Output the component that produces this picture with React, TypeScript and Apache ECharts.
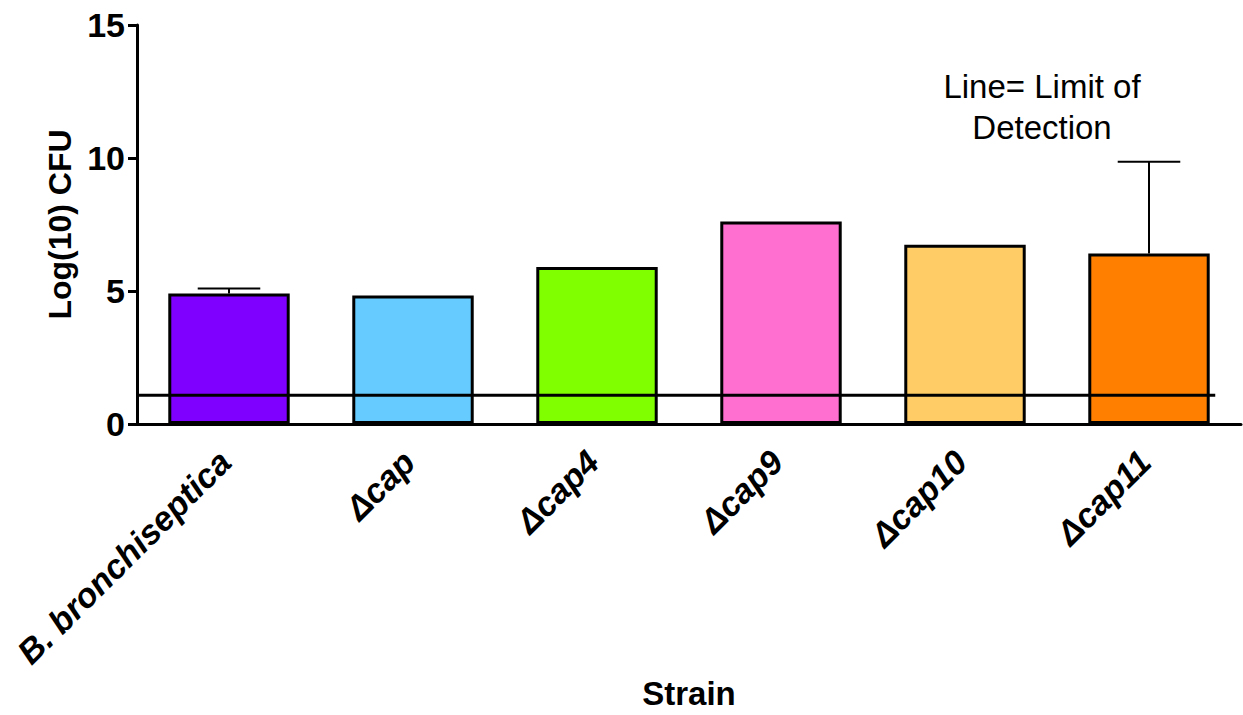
import React, { useEffect, useRef } from "react";
import * as echarts from "echarts";

// Strains on the x axis
const strains = ["B. bronchiseptica", "Δcap", "Δcap4", "Δcap9", "Δcap10", "Δcap11"];
// Mean Log(10) CFU per strain
const meanLogCfu = [4.91, 4.83, 5.9, 7.61, 6.74, 6.41];
// Upper end of the error bar (null = no visible bar)
const errorTop: (number | null)[] = [5.09, null, null, null, null, 9.86];
// Bar fill colours per strain
const barColors = ["#7F00FF", "#66CCFF", "#80FF00", "#FF6FCF", "#FFCC66", "#FF8000"];
// Limit of detection (Log(10) CFU)
const limitOfDetection = 1.08;
// Y-axis range
const yTicks = [0, 5, 10, 15];

const FONT = '"Liberation Sans", Arial, Helvetica, sans-serif';

export default function App() {
  const ref = useRef<HTMLDivElement>(null);

  useEffect(() => {
    if (!ref.current) return;
    const chart = echarts.init(ref.current, null, { renderer: "svg" });

    const option: any = {
      animation: false,
      backgroundColor: "#ffffff",
      grid: { left: 137, width: 1104, top: 25, height: 403, containLabel: false },
      xAxis: {
        type: "category",
        data: strains,
        name: "Strain",
        nameLocation: "middle",
        nameGap: 252,
        nameTextStyle: { fontFamily: FONT, fontWeight: "bold", fontSize: 33, color: "#000" },
        axisLine: { lineStyle: { color: "#000", width: 3 } },
        axisTick: { alignWithLabel: true, length: 8, lineStyle: { color: "#000", width: 3 } },
        axisLabel: {
          rotate: 45,
          margin: 28,
          padding: [0, 6, 0, 0],
          interval: 0,
          fontFamily: FONT,
          fontWeight: "bold",
          fontStyle: "italic",
          fontSize: 34,
          color: "#000",
        },
        splitLine: { show: false },
      },
      yAxis: {
        type: "value",
        min: yTicks[0],
        max: yTicks[yTicks.length - 1],
        interval: 5,
        name: "Log(10) CFU",
        nameLocation: "middle",
        nameGap: 56,
        nameTextStyle: { fontFamily: FONT, fontWeight: "bold", fontSize: 32, color: "#000" },
        axisLine: { show: true, lineStyle: { color: "#000", width: 3 } },
        axisTick: { show: true, length: 9, lineStyle: { color: "#000", width: 3 } },
        axisLabel: { margin: 12, fontFamily: FONT, fontWeight: "bold", fontSize: 34, color: "#000" },
        splitLine: { show: false },
      },
      series: [
        {
          type: "bar",
          barWidth: "66%",
          z: 2,
          data: meanLogCfu.map((v, i) => ({
            value: v,
            itemStyle: { color: barColors[i], borderColor: "#000", borderWidth: 3 },
          })),
        },
        {
          // upper error bars
          type: "custom",
          z: 3,
          data: errorTop.map((t, i) => [i, meanLogCfu[i], t]),
          renderItem: (params: any, api: any) => {
            const top = api.value(2);
            if (top === null || top === undefined || isNaN(top)) return null;
            const idx = api.value(0);
            const base = api.coord([idx, api.value(1)]);
            const tip = api.coord([idx, top]);
            const capHalf = api.size([1, 0])[0] * 0.17;
            return {
              type: "group",
              children: [
                {
                  type: "line",
                  shape: { x1: base[0], y1: base[1], x2: tip[0], y2: tip[1] },
                  style: { stroke: "#000", lineWidth: 2 },
                },
                {
                  type: "line",
                  shape: { x1: tip[0] - capHalf, y1: tip[1], x2: tip[0] + capHalf, y2: tip[1] },
                  style: { stroke: "#000", lineWidth: 2 },
                },
              ],
            };
          },
        },
        {
          // limit of detection line
          type: "custom",
          z: 4,
          data: [[strains.length - 1, limitOfDetection]],
          renderItem: (params: any, api: any) => {
            const cs = params.coordSys;
            const p = api.coord([api.value(0), api.value(1)]);
            const band = api.size([1, 0])[0];
            return {
              type: "line",
              shape: { x1: cs.x, y1: p[1], x2: p[0] + band * 0.36, y2: p[1] },
              style: { stroke: "#000", lineWidth: 3 },
            };
          },
        },
      ],
      graphic: [
        {
          type: "text",
          x: 1042,
          y: 66,
          style: {
            text: "Line= Limit of\nDetection",
            fontFamily: FONT,
            fontSize: 33,
            lineHeight: 41,
            align: "center",
            verticalAlign: "top",
            fill: "#000",
          },
        },
      ],
    };

    chart.setOption(option);
    return () => chart.dispose();
  }, []);

  return (
    <div
      ref={ref}
      style={{ position: "fixed", left: 0, top: 0, width: 1243, height: 715, background: "#fff" }}
    />
  );
}
